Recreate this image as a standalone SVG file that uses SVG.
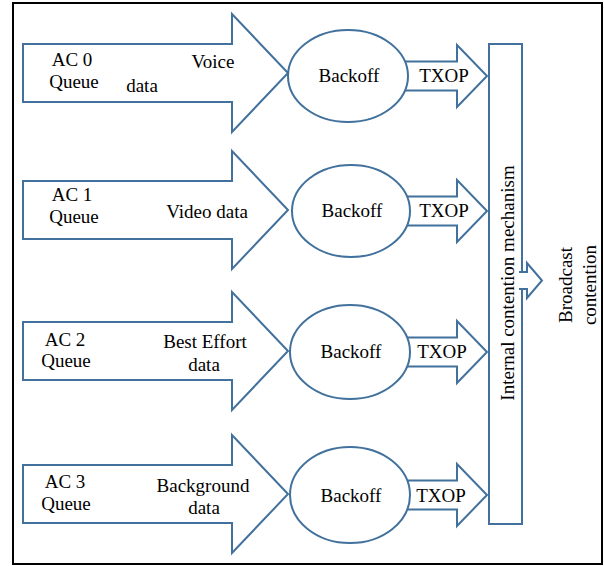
<svg xmlns="http://www.w3.org/2000/svg" width="604" height="566" viewBox="0 0 604 566">
<style>
.sh{fill:#fff;stroke:#41719C;stroke-width:2;stroke-linejoin:miter}
.t{font-family:'Liberation Serif','Times New Roman',Times,serif;font-size:19px;fill:#000;text-anchor:middle}
</style>
<rect x="13" y="3" width="589" height="561" fill="#fff" stroke="#000" stroke-width="2"/>
<g id="connectors">
<path class="sh" d="M405,61.5 H457 V45 L487,76 L457,107 V90.5 H405 Z"/>
<path class="sh" d="M405,196.5 H457 V180 L487,211 L457,242 V225.5 H405 Z"/>
<path class="sh" d="M405,337.5 H457 V321 L487,352 L457,383 V366.5 H405 Z"/>
<path class="sh" d="M405,480.5 H457 V464 L487,495 L457,526 V509.5 H405 Z"/>
<text class="t" x="444" y="82">TXOP</text>
<text class="t" x="444" y="217">TXOP</text>
<text class="t" x="442" y="358">TXOP</text>
<text class="t" x="441" y="502">TXOP</text>
</g>
<g id="ac0">
<path class="sh" d="M23,44 H232 V14 L288,73 L232,132 V102 H23 Z"/>
<text class="t" x="72" y="66">AC 0</text>
<text class="t" x="74" y="88">Queue</text>
<text class="t" x="213" y="68">Voice</text>
<text class="t" x="142" y="92">data</text>
</g>
<g id="ac1">
<path class="sh" d="M23,181 H232 V151 L288,210 L232,269 V239 H23 Z"/>
<text class="t" x="72" y="201">AC 1</text>
<text class="t" x="74" y="223">Queue</text>
<text class="t" x="207" y="218">Video data</text>
</g>
<g id="ac2">
<path class="sh" d="M23,322 H232 V292 L288,351 L232,410 V380 H23 Z"/>
<text class="t" x="65" y="346">AC 2</text>
<text class="t" x="66" y="367">Queue</text>
<text class="t" x="205" y="348">Best Effort</text>
<text class="t" x="204" y="371">data</text>
</g>
<g id="ac3">
<path class="sh" d="M23,465 H232 V435 L288,494 L232,553 V523 H23 Z"/>
<text class="t" x="65" y="488">AC 3</text>
<text class="t" x="66" y="510">Queue</text>
<text class="t" x="203" y="492">Background</text>
<text class="t" x="204" y="514">data</text>
</g>
<g id="backoff0"><ellipse class="sh" cx="348" cy="76" rx="60" ry="46"/><text class="t" x="349" y="82">Backoff</text></g>
<g id="backoff1"><ellipse class="sh" cx="351" cy="211" rx="59" ry="46"/><text class="t" x="352" y="217">Backoff</text></g>
<g id="backoff2"><ellipse class="sh" cx="350" cy="352" rx="60" ry="47"/><text class="t" x="351" y="358">Backoff</text></g>
<g id="backoff3"><ellipse class="sh" cx="350" cy="495" rx="60" ry="48"/><text class="t" x="351" y="502">Backoff</text></g>
<g id="internal">
<rect class="sh" x="489" y="44" width="33" height="480"/>
<text class="t" transform="translate(514,283) rotate(-90)">Internal contention mechanism</text>
</g>
<g id="broadcast">
<path class="sh" d="M519,272 H527 V263 L542,280.5 L527,298 V289 H519"/>
<text class="t" transform="translate(572,285) rotate(-90)">Broadcast</text>
<text class="t" transform="translate(596,285) rotate(-90)">contention</text>
</g>
</svg>
